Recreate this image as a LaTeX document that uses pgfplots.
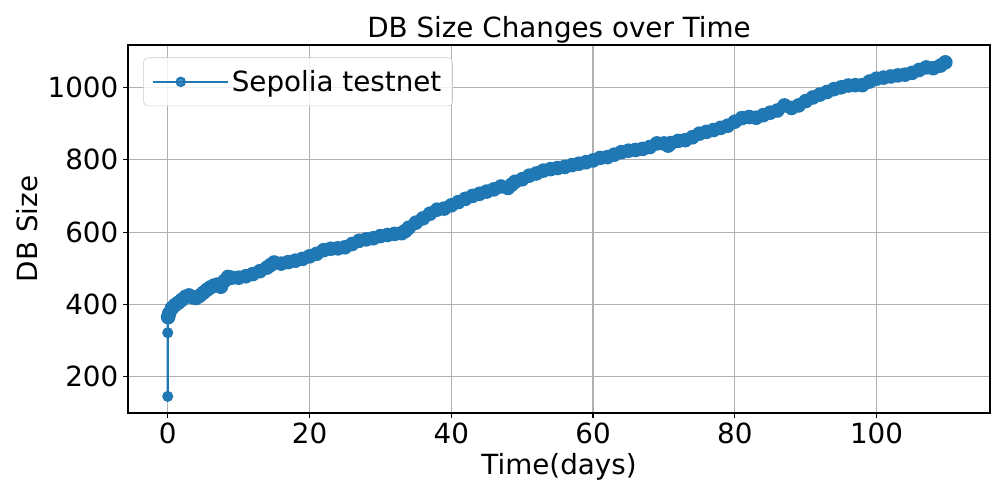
\documentclass[border=0pt]{standalone}
\usepackage{pgfplots}
\pgfplotsset{compat=1.18}
\usepackage{fontspec}
\setmainfont{DejaVu Sans}
\definecolor{mplblue}{HTML}{1F77B4}
\definecolor{gridgray}{HTML}{B0B0B0}

\begin{document}
\begin{tikzpicture}
\begin{axis}[
  name=ax, at={(0,0)}, anchor=south west,
  scale only axis, width=620.6pt, height=265pt,
  xmin=-5.6, xmax=116, ymin=100, ymax=1117,
  xtick={0,20,...,100}, ytick={200,400,...,1000},
  tick pos=left,
  tick align=outside, major tick length=3.5pt,
  tick style={black, line width=0.8pt},
  axis line style={black, line width=0.8pt},
  grid=major, major grid style={gridgray, line width=0.8pt},
  ticklabel style={font=\fontsize{20}{24}\selectfont},
  /pgf/number format/assume math mode=true,
  /pgf/number format/1000 sep={},
  xlabel={Time(days)}, ylabel={DB Size},
  label style={font=\fontsize{20}{24}\selectfont},
  title={DB Size Changes over Time},
  title style={font=\fontsize{20}{24}\selectfont, yshift=-8.5pt},
  legend style={at={(0,1)}, anchor=north west, xshift=11pt, yshift=-9pt,
    draw=black!20, rounded corners=3pt, fill=white, fill opacity=0.8, text opacity=1,
    font=\fontsize{20}{24}\selectfont, inner xsep=6pt, inner ysep=7pt,
    nodes={inner sep=2pt}},
  legend cell align=left,
  legend image code/.code={
    \path (0pt,0pt) -- (54pt,0pt);
    \draw[mplblue, line width=1.5pt] (0pt,0pt) -- (40pt,0pt);
    \fill[mplblue] (20pt,0pt) circle (3pt);
  },
]
% dense part of the series: bigger marks so the band is as thick as the reference
\addplot[mplblue, line width=1.5pt, mark=*, mark size=4.5pt,
  mark options={solid, fill=mplblue, draw=none}]
table {
x y
0.05 365
0.2 375
0.6 390
1 398
1.5 405
2 413
2.5 421
3 425
3.5 420
4 418
4.5 424
5 432
5.5 440
6 447
6.5 452
7 455
7.5 449
8 465
8.5 476
9 474
10 474
11 478
12 484
13 492
14 502
14.5 509
15 516
16 513
17 517
18 521
19 526
20 533
21 540
22 550
23 554
24 555
25 558
26 567
27 576
28 580
29 583
30 589
31 592
32 595
33 597
33.5 603
34 612
35 626
36 638
37 651
38 662
39 665
40 674
41 683
42 692
43 700
44 706
45 712
46 718
47 726
48 722
48.5 731
49 739
50 746
51 756
52 762
53 770
54 774
55 777
56 780
57 785
58 789
59 793
60 798
61 805
62 807
63 814
64 821
65 825
66 827
67 830
68 835
69 845
70 845
70.6 839
71 846
72 852
73 854
74 862
75 872
76 877
77 882
78 888
79 894
80 905
81 915
82 918
83 916
84 923
85 930
86 936
87 950
88 943
89 950
90 962
91 972
92 980
93 987
94 995
95 1000
96 1005
97 1006
98 1006
99 1016
100 1024
101 1027
102 1030
103 1033
104 1035
105 1040
106 1048
107 1055
108 1053
109 1060
109.7 1069
};
\addlegendentry{Sepolia testnet}
% first isolated readings at day 0
\addplot[mplblue, line width=1.5pt, mark=*, mark size=3.2pt,
  mark options={solid, fill=mplblue, draw=none}, forget plot]
table {
x y
0 146
0 322
0 362
0.05 365
};
\end{axis}
\pgfresetboundingbox
\path[use as bounding box] ([xshift=-92.2pt, yshift=-62.6pt]ax.south west) rectangle ([xshift=7.2pt, yshift=32.4pt]ax.north east);
\end{tikzpicture}
\end{document}
